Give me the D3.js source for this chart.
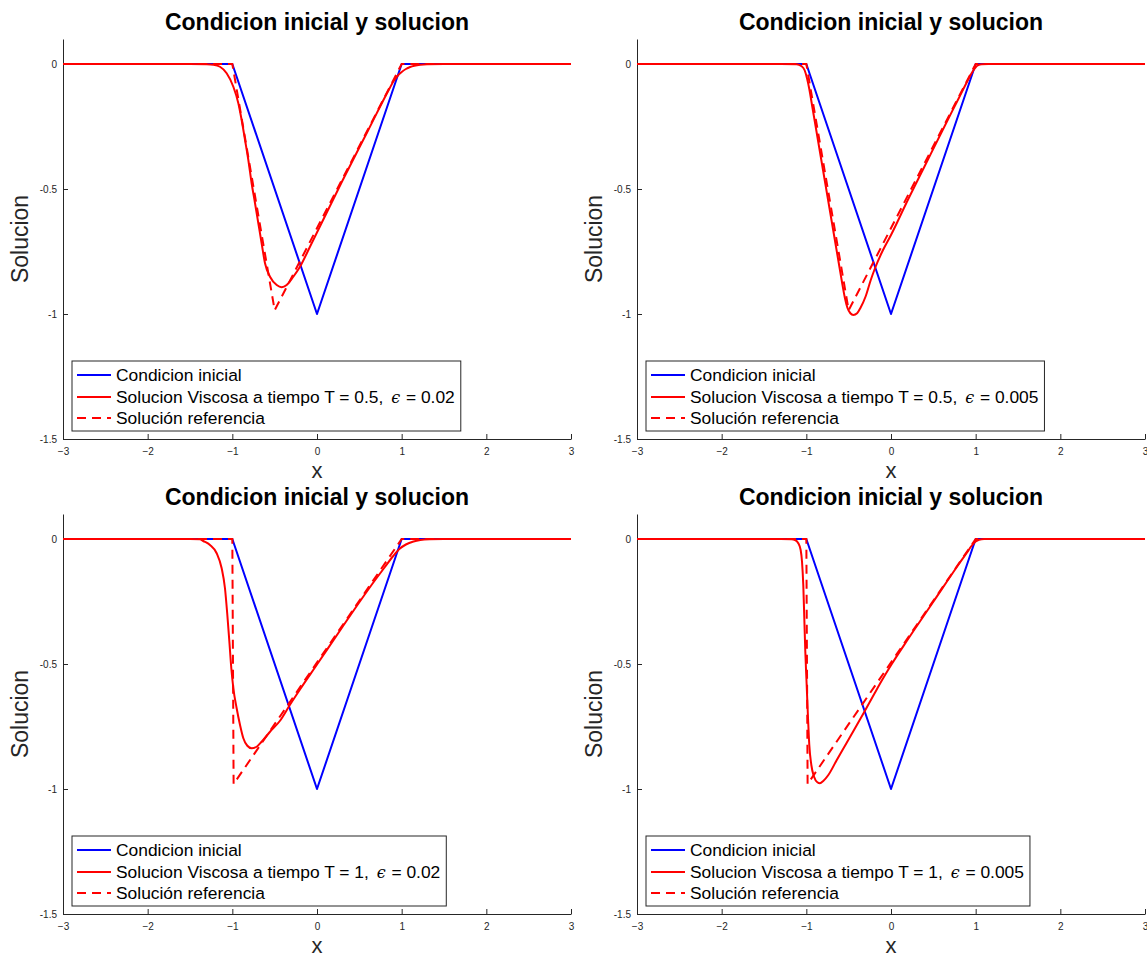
<!DOCTYPE html>
<html><head><meta charset="utf-8">
<script src="https://cdn.jsdelivr.net/npm/d3@7"></script>
<style>
body{margin:0;background:#fff}
svg{display:block}
text{font-family:"Liberation Sans",Arial,Helvetica,sans-serif;}
</style>
</head><body>
<svg id="c" width="1147" height="960"></svg>
<script>
// ---------- data ----------
const xTicks = [-3, -2, -1, 0, 1, 2, 3];
const yTicks = [-1.5, -1, -0.5, 0];
const yTickLabels = ["-1.5", "-1", "-0.5", "0"];

const titleText = "Condicion inicial y solucion";
const xLabelText = "x";
const yLabelText = "Solucion";

// initial condition
const xInit = [-3, -1, 0, 1, 3];
const yInit = [0, 0, -1, 0, 0];

// reference (entropy) solutions
const xRefT05 = [-3, -1, -0.5, 1, 3];
const yRefT05 = [0, 0, -0.985, 0, 0];
const xRefT1 = [-3, -1, -0.985, 1, 3];
const yRefT1 = [0, 0, -0.98, 0, 0];

// viscous solution T=0.5, eps=0.02
const xVisA = [-3, -1.5, -1.3, -1.225, -1.146, -1.067, -0.988, -0.929, -0.890, -0.850, -0.811, -0.772, -0.732, -0.693, -0.654, -0.614, -0.555, -0.476, -0.417, -0.358, -0.280, -0.201, -0.083, 0.3, 0.6, 0.85, 0.9, 0.95, 1.0, 1.05, 1.1, 1.15, 1.22, 1.3, 1.5, 3];
const yVisA = [0, 0, -0.001, -0.003, -0.011, -0.037, -0.091, -0.157, -0.224, -0.304, -0.384, -0.477, -0.557, -0.637, -0.717, -0.797, -0.851, -0.884, -0.893, -0.884, -0.851, -0.811, -0.731, -0.467, -0.268, -0.102, -0.071, -0.048, -0.032, -0.02, -0.012, -0.007, -0.003, -0.001, 0, 0];

// viscous solution T=0.5, eps=0.005
const xVisB = [-3, -1.3, -1.114, -1.06, -1.02, -0.99, -0.965, -0.93, -0.89, -0.85, -0.8, -0.75, -0.7, -0.65, -0.61, -0.575, -0.545, -0.515, -0.48, -0.445, -0.40, -0.36, -0.30, -0.24, -0.189, -0.1, 0, 0.2, 0.4, 0.6, 0.8, 0.9, 0.95, 0.98, 1.0, 1.03, 1.07, 1.15, 3];
const yVisB = [0, 0, -0.001, -0.008, -0.025, -0.06, -0.1, -0.17, -0.25, -0.33, -0.43, -0.53, -0.63, -0.73, -0.81, -0.88, -0.935, -0.975, -0.997, -1.004, -0.997, -0.975, -0.93, -0.865, -0.817, -0.748, -0.684, -0.543, -0.407, -0.271, -0.137, -0.07, -0.038, -0.022, -0.013, -0.005, -0.001, 0, 0];

// viscous solution T=1, eps=0.02
const xVisC = [-3, -1.5, -1.382, -1.343, -1.264, -1.185, -1.126, -1.087, -1.059, -1.035, -1.012, -0.988, -0.949, -0.909, -0.870, -0.823, -0.772, -0.713, -0.654, -0.555, -0.437, -0.319, -0.201, 0, 0.3, 0.5, 0.7, 0.8, 0.9, 0.98, 1.05, 1.14, 1.22, 1.33, 1.5, 3];
const yVisC = [0, 0, -0.001, -0.008, -0.024, -0.057, -0.117, -0.197, -0.304, -0.411, -0.517, -0.597, -0.677, -0.744, -0.797, -0.827, -0.837, -0.831, -0.811, -0.771, -0.727, -0.663, -0.602, -0.502, -0.352, -0.253, -0.158, -0.113, -0.068, -0.038, -0.022, -0.01, -0.004, -0.001, 0, 0];

// viscous solution T=1, eps=0.005
const xVisD = [-3, -1.3, -1.173, -1.134, -1.095, -1.067, -1.051, -1.036, -1.024, -1.012, -0.996, -0.980, -0.965, -0.941, -0.909, -0.870, -0.839, -0.800, -0.740, -0.642, -0.523, -0.4, -0.316, -0.2, -0.1, 0, 0.2, 0.5, 0.8, 0.9, 0.95, 1.0, 1.04, 1.1, 3];
const yVisD = [0, 0, -0.001, -0.004, -0.017, -0.044, -0.091, -0.184, -0.317, -0.451, -0.584, -0.717, -0.824, -0.904, -0.951, -0.973, -0.977, -0.968, -0.944, -0.885, -0.815, -0.742, -0.692, -0.621, -0.561, -0.505, -0.401, -0.251, -0.101, -0.053, -0.028, -0.01, -0.003, 0, 0];

const legendInit = "Condicion inicial";
const legendRef = "Solución referencia";
const legendVisPrefix = ["Solucion Viscosa a tiempo T = 0.5, ", "Solucion Viscosa a tiempo T = 0.5, ", "Solucion Viscosa a tiempo T = 1, ", "Solucion Viscosa a tiempo T = 1, "];
const legendVisSuffix = [" = 0.02", " = 0.005", " = 0.02", " = 0.005"];

// ---------- layout ----------
const panels = [
  {left: 63,  top: 39,  vx: xVisA, vy: yVisA, rx: xRefT05, ry: yRefT05},
  {left: 637, top: 39,  vx: xVisB, vy: yVisB, rx: xRefT05, ry: yRefT05},
  {left: 63,  top: 514, vx: xVisC, vy: yVisC, rx: xRefT1,  ry: yRefT1},
  {left: 637, top: 514, vx: xVisD, vy: yVisD, rx: xRefT1,  ry: yRefT1}
];
const W = 508, H = 400;
const axisColor = "#262626";
const svg = d3.select("#c");
const zip = (xs, ys) => xs.map((v, i) => [v, ys[i]]);

panels.forEach((p, i) => {
  const g = svg.append("g").attr("transform", `translate(${p.left},${p.top})`);
  const x = d3.scaleLinear().domain([-3, 3]).range([0, W]);
  const y = d3.scaleLinear().domain([-1.5, 0.1]).range([H, 0]);

  // axes
  const ax = g.append("g").attr("transform", `translate(0,${H})`)
    .call(d3.axisBottom(x).tickValues(xTicks).tickFormat(d3.format("d")).tickSizeInner(-5).tickSizeOuter(0).tickPadding(9));
  const ay = g.append("g")
    .call(d3.axisLeft(y).tickValues(yTicks).tickFormat((d, k) => yTickLabels[k]).tickSizeInner(-5).tickSizeOuter(0).tickPadding(6));
  [ax, ay].forEach(a => {
    a.select(".domain").attr("stroke", axisColor).attr("stroke-width", 1);
    a.selectAll(".tick line").attr("stroke", axisColor);
    a.selectAll(".tick text").attr("fill", axisColor).style("font-size", "10px")
      .style("font-family", '"Liberation Sans",Arial,sans-serif');
  });

  const line = d3.line().x(d => x(d[0])).y(d => y(d[1]));
  const smooth = d3.line().x(d => x(d[0])).y(d => y(d[1])).curve(d3.curveMonotoneX);

  g.append("path").datum(zip(xInit, yInit)).attr("d", line)
    .attr("fill", "none").attr("stroke", "#0000ff").attr("stroke-width", 2).attr("stroke-linejoin", "round");
  g.append("path").datum(zip(p.vx, p.vy)).attr("d", smooth)
    .attr("fill", "none").attr("stroke", "#ff0000").attr("stroke-width", 2).attr("stroke-linejoin", "round");
  g.append("path").datum(zip(p.rx, p.ry)).attr("d", line)
    .attr("fill", "none").attr("stroke", "#ff0000").attr("stroke-width", 2).attr("stroke-dasharray", "9,6");

  // title & labels
  g.append("text").attr("x", W / 2).attr("y", -9).attr("text-anchor", "middle")
    .style("font-size", "23px").style("font-weight", "bold").attr("fill", "#000").text(titleText);
  g.append("text").attr("x", W / 2).attr("y", H + 39).attr("text-anchor", "middle")
    .style("font-size", "22px").attr("fill", axisColor).text(xLabelText);
  g.append("text").attr("transform", `translate(-35,${H / 2}) rotate(-90)`).attr("text-anchor", "middle")
    .style("font-size", "23px").attr("fill", axisColor).text(yLabelText);

  // legend
  const lg = g.append("g").attr("transform", `translate(9,322)`);
  const box = lg.append("rect").attr("x", 0).attr("y", 0).attr("height", 70)
    .attr("fill", "#fff").attr("stroke", axisColor).attr("stroke-width", 1);
  const rows = [14, 36, 57];
  const styles = [{c: "#0000ff", d: null}, {c: "#ff0000", d: null}, {c: "#ff0000", d: "9,6"}];
  let maxW = 0;
  rows.forEach((ry, k) => {
    const ln = lg.append("line").attr("x1", 5).attr("x2", 39).attr("y1", ry).attr("y2", ry)
      .attr("stroke", styles[k].c).attr("stroke-width", 2);
    if (styles[k].d) ln.attr("stroke-dasharray", styles[k].d);
    const t = lg.append("text").attr("x", 44).attr("y", ry + 6).style("font-size", "17.4px").attr("fill", "#000");
    if (k === 0) t.text(legendInit);
    else if (k === 2) t.text(legendRef);
    else {
      t.append("tspan").text(legendVisPrefix[i]);
      t.append("tspan").attr("dx", 3).style("font-style", "italic").style("font-family", '"DejaVu Serif",serif').style("font-size", "16px").text("ϵ");
      t.append("tspan").attr("dx", 1).text(legendVisSuffix[i]);
    }
    maxW = Math.max(maxW, t.node().getComputedTextLength() + (k === 1 ? 4 : 0));
  });
  box.attr("width", 44 + maxW + 6);
});
</script>
</body></html>
